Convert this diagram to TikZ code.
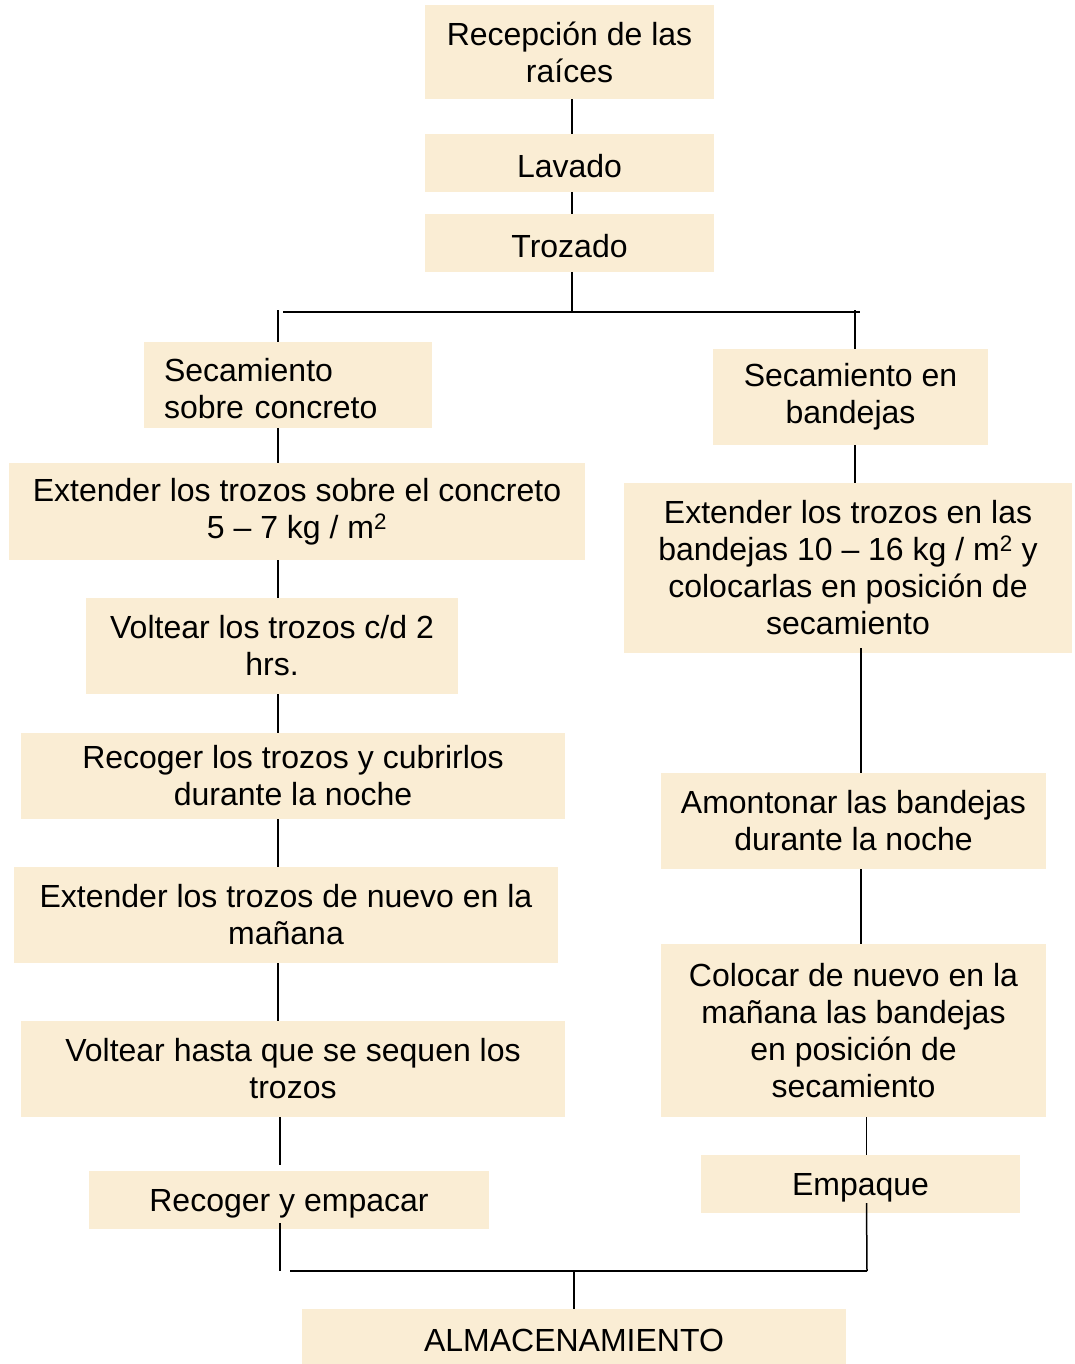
\documentclass[tikz,border=0pt]{standalone}
\usepackage{fontspec}
\setmainfont{Liberation Sans}
\definecolor{parch}{RGB}{250,237,212}
\begin{document}
\begin{tikzpicture}[x=1pt,y=-1pt,
  box/.style={fill=parch, inner sep=0pt, align=center, font=\fontsize{32}{37}\selectfont,
    execute at begin node={\rule{0pt}{30pt}}},
  ln/.style={line width=1.5pt, black},
  bar/.style={line width=2.2pt, black}]
\path[use as bounding box] (0,0) rectangle (1074,1364);
% boxes
\node[box, minimum width=289, minimum height=94] (rec) at (569.5,52) {Recepción de las\\raíces};
\node[box, minimum width=289, minimum height=58] (lav) at (569.5,163) {Lavado};
\node[box, minimum width=289, minimum height=58] (tro) at (569.5,243) {Trozado};
\node[box, align=left, text width=248, inner xsep=20, minimum height=86] (sc) at (288,385) {Secamiento\\sobre concreto};
\node[box, minimum width=275, minimum height=96] (sb) at (850.5,397) {Secamiento en\\bandejas};
\node[box, minimum width=576, minimum height=97] (ec) at (297,511.5) {Extender los trozos sobre el concreto\\5 – 7 kg / m\textsuperscript{2}};
\node[box, minimum width=372, minimum height=96] (vo) at (272,646) {Voltear los trozos c/d 2\\hrs.};
\node[box, minimum width=544, minimum height=86] (rc) at (293,776) {Recoger los trozos y cubrirlos\\durante la noche};
\node[box, minimum width=544, minimum height=96] (en) at (286,915) {Extender los trozos de nuevo en la\\mañana};
\node[box, minimum width=544, minimum height=96] (vh) at (293,1069) {Voltear hasta que se sequen los\\trozos};
\node[box, minimum width=400, minimum height=58] (re) at (289,1200) {Recoger y empacar};
\node[box, minimum width=448, minimum height=170] (eb) at (848,568) {Extender los trozos en las\\bandejas 10 – 16 kg / m\textsuperscript{2} y\\colocarlas en posición de\\secamiento};
\node[box, minimum width=385, minimum height=96] (am) at (853.5,821) {Amontonar las bandejas\\durante la noche};
\node[box, minimum width=385, minimum height=173] (co) at (853.5,1030.5) {Colocar de nuevo en la\\mañana las bandejas\\en posición de\\secamiento};
\node[box, minimum width=319, minimum height=58] (em) at (860.5,1184) {Empaque};
\node[box, minimum width=544, minimum height=55] (al) at (574,1336.5) {ALMACENAMIENTO};
% helper coordinates
\coordinate (xa) at (572,0);
\coordinate (xL) at (278,0);
\coordinate (xL2) at (280,0);
\coordinate (xR) at (855,0);
\coordinate (xR2) at (861,0);
\coordinate (xR3) at (866.5,0);
\coordinate (hubT) at (572,312);
\coordinate (hubL) at (283,312);
\coordinate (hubR) at (860,312);
\coordinate (topL) at (278,310);
\coordinate (topR) at (855,310);
\coordinate (vhEnd) at (280,1165);
\coordinate (reStart) at (280,1223);
\coordinate (emStart) at (866.5,1203);
\coordinate (botL) at (290,1271);
\coordinate (botR) at (867,1271);
\coordinate (botM) at (574,1271);
\coordinate (botLv) at (280,1271);
% connectors
\draw[ln] (rec.south -| xa) -- (lav.north -| xa);
\draw[ln] (lav.south -| xa) -- (tro.north -| xa);
\draw[ln] (tro.south -| xa) -- (hubT);
\draw[bar] (hubL) -- (hubR);
\draw[ln] (topL) -- (sc.north -| xL);
\draw[ln] (topR) -- (sb.north -| xR);
\draw[ln] (sc.south -| xL) -- (ec.north -| xL);
\draw[ln] (ec.south -| xL) -- (vo.north -| xL);
\draw[ln] (vo.south -| xL) -- (rc.north -| xL);
\draw[ln] (rc.south -| xL) -- (en.north -| xL);
\draw[ln] (en.south -| xL) -- (vh.north -| xL);
\draw[ln] (vh.south -| xL2) -- (vhEnd);
\draw[ln] (reStart) -- (botLv);
\draw[ln] (sb.south -| xR) -- (eb.north -| xR);
\draw[ln] ([yshift=5]eb.south -| xR2) -- (am.north -| xR2);
\draw[ln] (am.south -| xR2) -- (co.north -| xR2);
\draw[ln] (co.south -| xR3) -- (em.north -| xR3);
\draw[ln] (emStart) -- (botR);
\draw[bar] (botL) -- (botR);
\draw[ln] (botM) -- (al.north -| botM);
\end{tikzpicture}
\end{document}
